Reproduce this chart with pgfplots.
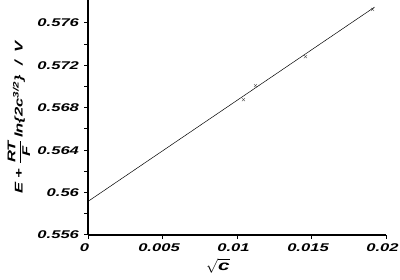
\documentclass[border=0pt]{standalone}
\usepackage{fontspec}
\setmainfont{Liberation Sans}[FakeStretch=1.48]
\usepackage{pgfplots}
\pgfplotsset{compat=1.18}
\begin{document}
\begin{tikzpicture}
\useasboundingbox (-88.5pt,-45pt) rectangle (311.5pt,235pt);
\begin{axis}[
  at={(0,0)}, anchor=south west,
  scale only axis, width=298pt, height=235pt,
  xmin=0, xmax=0.02, ymin=0.556, ymax=0.57817,
  axis lines*=left,
  axis line style={line width=2pt},
  tick align=outside,
  major tick length=4pt, minor tick length=4pt,
  tick style={line width=1pt, black},
  xtick={0,0.005,0.01,0.015,0.02},
  xticklabels={0,0.005,0.01,0.015,0.02},
  ytick={0.556,0.56,0.564,0.568,0.572,0.576},
  yticklabels={0.556,0.56,0.564,0.568,0.572,0.576},
  minor ytick={0.558,0.562,0.566,0.570,0.574},
  scaled ticks=false,
  ticklabel style={font=\fontsize{11.2}{13}\selectfont\bfseries\itshape},
  /pgf/number format/assume math mode=true,
  xticklabel style={yshift=-1pt, xshift=-4pt},
  yticklabel style={xshift=-2pt},
  xlabel={$\sqrt{\mbox{\bfseries\itshape c}}$},
  xlabel style={at={(axis description cs:0.4346,-0.0979)}, anchor=north, inner sep=0pt, font=\fontsize{14}{16}\selectfont\bfseries\itshape},
  ylabel={E + $\displaystyle\frac{\mbox{\bfseries\itshape RT}}{\mbox{\bfseries\itshape F}}$\,ln\{2c\textsuperscript{3/2}\}\ \ /\ \ V},
  ylabel style={at={(axis description cs:-0.2335,0.5)}, anchor=center, inner sep=0pt, font=\fontsize{11.2}{13}\selectfont\bfseries\itshape},
  clip=false,
]
\addplot[black, line width=0.5pt] coordinates {(0,0.5592) (0.0192,0.5775)};
\addplot[only marks, mark=x, mark size=2.2pt, draw=black!70, line width=0.4pt] coordinates {
(0.01906,0.57728) (0.01456,0.57283) (0.01121,0.57009) (0.0104,0.56877)};
\end{axis}
\end{tikzpicture}
\end{document}
